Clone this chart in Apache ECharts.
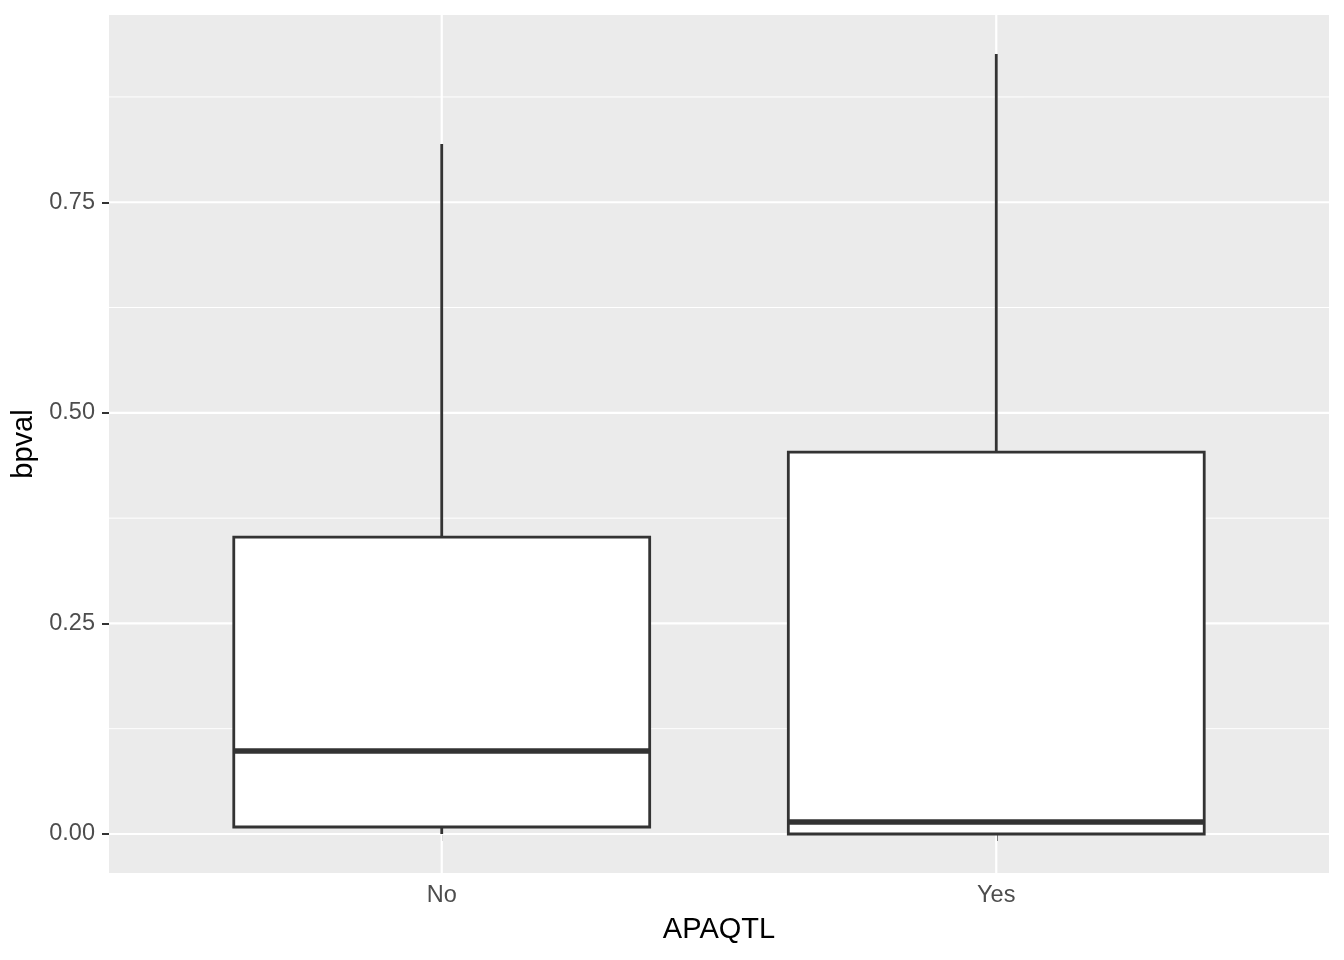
<!DOCTYPE html>
<html>
<head>
<meta charset="utf-8">
<script src="https://cdn.jsdelivr.net/npm/echarts@6/dist/echarts.min.js"></script>
<style>html,body{margin:0;padding:0;background:#fff}#c{width:1344px;height:960px}</style>
</head>
<body>
<div id="c"></div>
<script>
const categories = ['No', 'Yes'];
const whiskerLow = [0.0, 0.0];
const q1 = [0.0083, 0.0];
const median = [0.0985, 0.0142];
const q3 = [0.3525, 0.4533];
const whiskerHigh = [0.8192, 0.926];
const yTicks = [0, 0.25, 0.5, 0.75];
const yMinor = [0.125, 0.375, 0.625, 0.875];

const boxData = categories.map((c, i) => [i + 1, whiskerLow[i], q1[i], median[i], q3[i], whiskerHigh[i]]);
const xTicks = categories.map((c, i) => i + 1);

const font = 'Liberation Sans, Arial, Helvetica, sans-serif';
const ink = '#333333';

const chart = echarts.init(document.getElementById('c'));
chart.setOption({
  animation: false,
  backgroundColor: '#ffffff',
  grid: { left: 109, right: 15, top: 15, bottom: 87, show: true, backgroundColor: '#EBEBEB', borderWidth: 0 },
  xAxis: {
    type: 'value', min: 0.4, max: 2.6,
    name: 'APAQTL', nameLocation: 'middle', nameGap: 42,
    nameTextStyle: { fontFamily: font, fontSize: 29, color: '#000' },
    axisLine: { show: false },
    splitLine: { show: false },
    axisTick: { show: true, customValues: xTicks, length: 7, lineStyle: { color: ink, width: 2 } },
    axisLabel: { customValues: xTicks, margin: 11, fontFamily: font, fontSize: 23.5, color: '#4D4D4D',
      formatter: v => categories[Math.round(v) - 1] }
  },
  yAxis: {
    type: 'value', min: -0.0463, max: 0.9723,
    name: 'bpval', nameLocation: 'middle', nameGap: 64,
    nameTextStyle: { fontFamily: font, fontSize: 29, color: '#000' },
    axisLine: { show: false },
    splitLine: { show: false },
    axisTick: { show: true, customValues: yTicks, length: 7, lineStyle: { color: ink, width: 2 } },
    axisLabel: { customValues: yTicks, margin: 14, fontFamily: font, fontSize: 23.5, color: '#4D4D4D',
      formatter: v => v.toFixed(2) }
  },
  series: [
    {
      type: 'custom', silent: true, z: 1,
      data: [0],
      renderItem: function (params, api) {
        const cs = params.coordSys;
        const children = [];
        yMinor.forEach(v => {
          const y = api.coord([0.4, v])[1];
          children.push({ type: 'line', shape: { x1: cs.x, y1: y, x2: cs.x + cs.width, y2: y }, style: { stroke: '#fff', lineWidth: 1 } });
        });
        yTicks.forEach(v => {
          const y = api.coord([0.4, v])[1];
          children.push({ type: 'line', shape: { x1: cs.x, y1: y, x2: cs.x + cs.width, y2: y }, style: { stroke: '#fff', lineWidth: 2.2 } });
        });
        xTicks.forEach(v => {
          const x = api.coord([v, 0])[0];
          children.push({ type: 'line', shape: { x1: x, y1: cs.y, x2: x, y2: cs.y + cs.height }, style: { stroke: '#fff', lineWidth: 2.2 } });
        });
        return { type: 'group', children };
      }
    },
    {
      type: 'custom', silent: true, z: 2,
      data: boxData,
      encode: { x: 0, y: [1, 2, 3, 4, 5] },
      renderItem: function (params, api) {
        const x = api.value(0);
        const pMin = api.coord([x, api.value(1)]);
        const pQ1 = api.coord([x, api.value(2)]);
        const pMed = api.coord([x, api.value(3)]);
        const pQ3 = api.coord([x, api.value(4)]);
        const pMax = api.coord([x, api.value(5)]);
        const hw = api.size([0.75, 0])[0] / 2;
        const cx = pMed[0];
        return {
          type: 'group',
          children: [
            { type: 'line', shape: { x1: cx, y1: pQ3[1], x2: cx, y2: pMax[1] }, style: { stroke: ink, lineWidth: 2.8 } },
            { type: 'line', shape: { x1: cx, y1: pQ1[1], x2: cx, y2: pMin[1] }, style: { stroke: ink, lineWidth: 2.8 } },
            { type: 'rect', shape: { x: cx - hw, y: pQ3[1], width: 2 * hw, height: pQ1[1] - pQ3[1] }, style: { fill: '#fff', stroke: ink, lineWidth: 2.8 } },
            { type: 'line', shape: { x1: cx - hw, y1: pMed[1], x2: cx + hw, y2: pMed[1] }, style: { stroke: ink, lineWidth: 5.6 } }
          ]
        };
      }
    }
  ]
});
</script>
</body>
</html>
